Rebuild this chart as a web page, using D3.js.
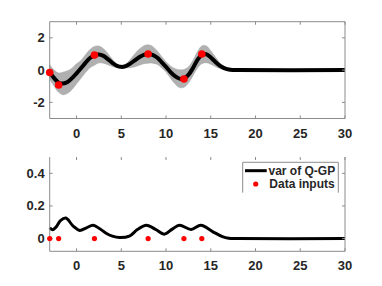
<!DOCTYPE html>
<html>
<head>
<meta charset="utf-8">
<script src="https://cdn.jsdelivr.net/npm/d3@7"></script>
<style>
  body { margin: 0; background: #fff; }
  text { font-family: "Liberation Sans", Arial, sans-serif; font-weight: bold; fill: #262626; }
</style>
</head>
<body>
<div id="root"></div>
<script>
// sample positions along x
const xs = [-3,-2.5,-2,-1.5,-1,-0.5,0,0.5,1,1.5,2,2.5,3,3.5,4,4.5,5,5.5,6,6.5,7,7.5,8,8.5,9,9.5,10,10.5,11,11.5,12,12.5,13,13.5,14,14.5,15,15.5,16,16.5,17,17.5,18,30];

// predictive mean
const meanVals = [-0.12,-0.5,-0.78,-0.83,-0.74,-0.5,-0.2,0.12,0.45,0.75,0.92,0.97,0.88,0.68,0.45,0.27,0.2,0.25,0.4,0.6,0.8,0.95,1.0,0.95,0.78,0.5,0.2,-0.12,-0.38,-0.53,-0.52,-0.3,0.12,0.62,0.95,0.98,0.78,0.52,0.28,0.12,0.04,0.01,0,0];

// grey band edges
const upperVals = [0.33,0.0,-0.18,-0.13,-0.04,0.12,0.4,0.6,0.95,1.27,1.47,1.49,1.33,1.03,0.67,0.39,0.28,0.37,0.65,1.0,1.3,1.5,1.57,1.47,1.2,0.85,0.52,0.26,0.09,0.02,0.03,0.2,0.59,1.12,1.5,1.5,1.2,0.82,0.46,0.22,0.09,0.03,0,0];
const lowerVals = [-0.57,-1.0,-1.38,-1.53,-1.44,-1.2,-0.85,-0.5,-0.15,0.15,0.3,0.45,0.43,0.33,0.23,0.15,0.12,0.13,0.15,0.2,0.3,0.4,0.43,0.43,0.36,0.15,-0.12,-0.5,-0.85,-1.08,-1.07,-0.8,-0.35,0.12,0.4,0.46,0.36,0.22,0.1,0.02,-0.01,-0.01,0,0];

// variance curve (bottom panel)
const varX = [-3,-2.7,-2.3,-1.8,-1.2,-0.4,0.35,1.1,1.85,2.6,3.3,4,4.8,5.9,6.8,7.8,8.9,9.8,10.7,11.5,12.8,13.9,15.2,16.3,17,18,30];
const varVals = [0.066,0.054,0.07,0.11,0.126,0.078,0.05,0.066,0.082,0.06,0.033,0.015,0.006,0.015,0.055,0.082,0.054,0.027,0.058,0.082,0.056,0.082,0.043,0.012,0.002,0,0];

// data inputs
const dataX = [-3,-2,2,8,12,14];
const dataY = [-0.15,-0.92,0.93,1.0,-0.55,1.0];

const xTicks = [0,5,10,15,20,25,30];
const topYTicks = [-2,0,2];
const botYTicks = [0,0.2,0.4];

const w = 382, h = 286;
const left = 49.7, right = 345;
const axisColor = "#8c8c8c";

const svg = d3.select("#root").append("svg")
  .attr("width", w)
  .attr("height", h);

const xScale = d3.scaleLinear().domain([-3, 30]).range([left, right]);
const yTop = d3.scaleLinear().domain([-3, 3]).range([118.5, 21.7]);
const yBot = d3.scaleLinear().domain([-0.078, 0.5]).range([251.3, 157]);

function drawAxes(yScale, ticks, fmt, showTopLine) {
  const [y0, y1] = yScale.range();
  const g = svg.append("g");
  // borders
  g.append("line").attr("x1", left).attr("x2", right).attr("y1", y0).attr("y2", y0);
  g.append("line").attr("x1", left).attr("x2", left).attr("y1", y0).attr("y2", y1);
  g.append("line").attr("x1", right).attr("x2", right).attr("y1", y0).attr("y2", y1);
  if (showTopLine) {
    g.append("line").attr("x1", left).attr("x2", right).attr("y1", y1).attr("y2", y1);
  }
  // x ticks bottom and top
  xTicks.forEach(t => {
    const x = xScale(t);
    g.append("line").attr("x1", x).attr("x2", x).attr("y1", y0).attr("y2", y0 - 3);
    g.append("line").attr("x1", x).attr("x2", x).attr("y1", y1).attr("y2", y1 + 3);
  });
  ticks.forEach(t => {
    const y = yScale(t);
    g.append("line").attr("x1", left).attr("x2", left + 3).attr("y1", y).attr("y2", y);
    g.append("line").attr("x1", right).attr("x2", right - 3).attr("y1", y).attr("y2", y);
  });
  g.selectAll("line").attr("stroke", axisColor).attr("stroke-width", 1);

  g.selectAll(".xl").data(xTicks).enter().append("text")
    .attr("x", d => xScale(d))
    .attr("y", y0 + 19)
    .attr("text-anchor", "middle")
    .attr("font-size", 13)
    .text(d => d);
  g.selectAll(".yl").data(ticks).enter().append("text")
    .attr("x", left - 5)
    .attr("y", d => yScale(d) + 4.5)
    .attr("text-anchor", "end")
    .attr("font-size", 13)
    .text(fmt);
}

// ---- top panel ----
const band = d3.area()
  .x((d, i) => xScale(xs[i]))
  .y0((d, i) => yTop(lowerVals[i]))
  .y1((d, i) => yTop(upperVals[i]))
  .curve(d3.curveCatmullRom);

svg.append("path")
  .datum(xs)
  .attr("d", band)
  .attr("fill", "#b0b0b0")
  .attr("stroke", "#a0a0a0")
  .attr("stroke-width", 0.5);

const meanLine = d3.line()
  .x((d, i) => xScale(xs[i]))
  .y((d, i) => yTop(meanVals[i]))
  .curve(d3.curveCatmullRom);

svg.append("path")
  .datum(xs)
  .attr("d", meanLine)
  .attr("fill", "none")
  .attr("stroke", "#000")
  .attr("stroke-width", 4);

drawAxes(yTop, topYTicks, d => d < 0 ? "-" + Math.abs(d) : d, true);

svg.append("g").selectAll("circle")
  .data(dataX)
  .enter()
  .append("circle")
  .attr("cx", d => xScale(d))
  .attr("cy", (d, i) => yTop(dataY[i]))
  .attr("r", 3.8)
  .attr("fill", "#ff0000");

// ---- bottom panel ----
const varLine = d3.line()
  .x((d, i) => xScale(varX[i]))
  .y((d, i) => yBot(varVals[i]))
  .curve(d3.curveCatmullRom);

svg.append("path")
  .datum(varX)
  .attr("d", varLine)
  .attr("fill", "none")
  .attr("stroke", "#000")
  .attr("stroke-width", 3);

drawAxes(yBot, botYTicks, d => d === 0 ? "0" : d.toFixed(1), false);

svg.append("g").selectAll("circle")
  .data(dataX)
  .enter()
  .append("circle")
  .attr("cx", d => xScale(d))
  .attr("cy", yBot(0))
  .attr("r", 2.6)
  .attr("fill", "#ff0000");

// legend
const lg = svg.append("g").attr("id", "legend");
lg.append("path")
  .attr("d", "M242.7,192.7 V162.3 H338.3 V192.7")
  .attr("fill", "#fff")
  .attr("stroke", "#8c8c8c")
  .attr("stroke-width", 1);
lg.append("line")
  .attr("x1", 245).attr("x2", 266.7)
  .attr("y1", 170.7).attr("y2", 170.7)
  .attr("stroke", "#000").attr("stroke-width", 3);
lg.append("text").attr("x", 268.5).attr("y", 175).attr("font-size", 12).text("var of Q-GP");
lg.append("circle").attr("cx", 255.7).attr("cy", 184).attr("r", 2.6).attr("fill", "#ff0000");
lg.append("text").attr("x", 269.3).attr("y", 188.3).attr("font-size", 12).text("Data inputs");
</script>
</body>
</html>
